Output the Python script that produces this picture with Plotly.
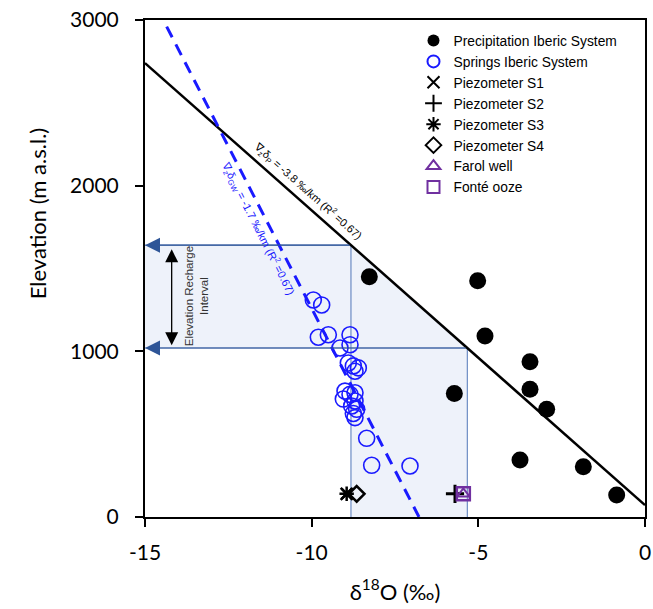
import plotly.graph_objects as go

# ---------------- data ----------------
precip_x = [-8.27, -5.02, -4.8, -5.72, -3.45, -3.45, -2.95, -3.75, -1.85, -0.85]
precip_y = [1450, 1426, 1092, 746, 937, 771, 650, 344, 304, 133]

springs_x = [-9.95, -9.7, -9.8, -9.5, -8.85, -9.15, -8.85,
             -8.9, -8.75, -8.6, -8.7,
             -9.0, -8.85, -9.05, -8.7, -8.7, -8.8, -8.65, -8.75, -8.7,
             -8.35, -8.2, -7.05]
springs_y = [1310, 1280, 1085, 1100, 1100, 1020, 1040,
             930, 912, 900, 880,
             760, 740, 712, 750, 700, 670, 650, 625, 600,
             475, 312, 308]

s1_x, s1_y = [-8.95], [140]
s2_x, s2_y = [-5.7], [140]
s3_x, s3_y = [-8.95], [140]
s4_x, s4_y = [-8.65], [140]
farol_x, farol_y = [-5.45], [140]
fonte_x, fonte_y = [-5.45], [140]

# regression lines (end points)
precip_fit_x = [-15, 0]
precip_fit_y = [2740, 72]
gw_fit_x = [-14.35, -6.78]
gw_fit_y = [2960, 0]

# recharge elevation interval
recharge_low = 1020
recharge_high = 1641

x_ticks = [-15, -10, -5, 0]
y_ticks = [0, 1000, 2000, 3000]

# ---------------- derived ----------------
slope = (precip_fit_y[1] - precip_fit_y[0]) / (precip_fit_x[1] - precip_fit_x[0])
def x_on_precip(elev):
    return precip_fit_x[0] + (elev - precip_fit_y[0]) / slope

xa = x_on_precip(recharge_high)
xb = x_on_precip(recharge_low)
xmin = x_ticks[0]

SANS = 'Liberation Sans, Arial'

fig = go.Figure()

# shaded recharge region
fig.add_trace(go.Scatter(
    x=[xmin, xmin, xa, xb, xb, xa, xa, xmin],
    y=[recharge_low, recharge_high, recharge_high, recharge_low, 0, 0, recharge_low, recharge_low],
    fill='toself', fillcolor='#eef2fa', mode='none', showlegend=False, hoverinfo='skip'))

line_col = '#6c8cc4'
for xs, ys in [([xmin, xa], [recharge_high, recharge_high]),
               ([xmin, xb], [recharge_low, recharge_low]),
               ([xa, xa], [0, recharge_high]),
               ([xb, xb], [0, recharge_low])]:
    fig.add_trace(go.Scatter(x=xs, y=ys, mode='lines', line=dict(color=line_col, width=1.2),
                             showlegend=False, hoverinfo='skip'))

# regression lines
fig.add_trace(go.Scatter(x=precip_fit_x, y=precip_fit_y, mode='lines',
                         line=dict(color='black', width=2.5), showlegend=False))
fig.add_trace(go.Scatter(x=gw_fit_x, y=gw_fit_y, mode='lines',
                         line=dict(color='#1a1aff', width=3, dash='12px,8px'), showlegend=False))

purple = '#7030a0'
fig.add_trace(go.Scatter(x=precip_x, y=precip_y, mode='markers', name='Precipitation Iberic System',
                         marker=dict(symbol='circle', size=17, color='black')))
fig.add_trace(go.Scatter(x=springs_x, y=springs_y, mode='markers', name='Springs Iberic System',
                         marker=dict(symbol='circle-open', size=16, color='#1a1aff', line=dict(width=1.6))))
fig.add_trace(go.Scatter(x=s1_x, y=s1_y, mode='markers', name='Piezometer S1',
                         marker=dict(symbol='x-thin-open', size=12, color='black', line=dict(width=2.5))))
fig.add_trace(go.Scatter(x=s2_x, y=s2_y, mode='markers', name='Piezometer S2',
                         marker=dict(symbol='cross-thin-open', size=13, color='black', line=dict(width=3))))
fig.add_trace(go.Scatter(x=s3_x, y=s3_y, mode='markers', name='Piezometer S3',
                         marker=dict(symbol='asterisk-open', size=12, color='black', line=dict(width=2.5))))
fig.add_trace(go.Scatter(x=s4_x, y=s4_y, mode='markers', name='Piezometer S4',
                         marker=dict(symbol='diamond-open', size=12, color='black', line=dict(width=2.5))))
fig.add_trace(go.Scatter(x=farol_x, y=farol_y, mode='markers', name='Farol well',
                         marker=dict(symbol='triangle-up-open', size=11, color=purple, line=dict(width=2))))
fig.add_trace(go.Scatter(x=fonte_x, y=fonte_y, mode='markers', name='Fonté ooze',
                         marker=dict(symbol='square-open', size=13, color=purple, line=dict(width=2.5))))

annotations = [
    # left-pointing arrowheads on the recharge lines
    dict(x=xmin, y=recharge_high, ax=xa, ay=recharge_high, xref='x', yref='y', axref='x', ayref='y',
         showarrow=True, arrowhead=2, arrowsize=2.5, arrowwidth=1.2, arrowcolor='#2e5597', text=''),
    dict(x=xmin, y=recharge_low, ax=xb, ay=recharge_low, xref='x', yref='y', axref='x', ayref='y',
         showarrow=True, arrowhead=2, arrowsize=2.5, arrowwidth=1.2, arrowcolor='#2e5597', text=''),
    # double-headed black arrow
    dict(x=-14.2, y=recharge_high - 25, ax=-14.2, ay=recharge_low + 8, xref='x', yref='y', axref='x', ayref='y',
         showarrow=True, arrowhead=2, startarrowhead=2, arrowside='end+start', arrowsize=2,
         startarrowsize=2, arrowwidth=1.3, arrowcolor='black', text=''),
    dict(x=-13.45, y=(recharge_low + recharge_high) / 2, xref='x', yref='y', showarrow=False,
         text='Elevation Recharge<br>Interval', textangle=-90,
         font=dict(family=SANS, size=11.5, color='#333333')),
    dict(x=-10.12, y=1970, xref='x', yref='y', showarrow=False, textangle=41.5,
         text='∇<sub>z</sub>δ<sub>P</sub> = -3.8 ‰/km (R<sup>2</sup> =0.67)',
         font=dict(family=SANS, size=11, color='black')),
    dict(x=-11.62, y=1744, xref='x', yref='y', showarrow=False, textangle=63,
         text='∇<sub>z</sub>δ<sub>GW</sub> = -1.7 ‰/km (R<sup>2</sup> =0.67)',
         font=dict(family=SANS, size=11, color='#1a1aff')),
    # y axis title (placed above the middle, as in the original)
    dict(x=-0.246, y=0.61, xref='paper', yref='paper', showarrow=False, textangle=-90,
         text='Elevation (m a.s.l.)', font=dict(family='Lato', size=22, color='black')),
]

fig.update_layout(
    width=653, height=609,
    margin=dict(l=145, r=8, t=20, b=92, autoexpand=False),
    paper_bgcolor='white', plot_bgcolor='white',
    showlegend=True,
    legend=dict(x=0.537, y=0.99, xanchor='left', yanchor='top', bgcolor='rgba(0,0,0,0)',
                font=dict(family=SANS, size=13.8, color='black'),
                tracegroupgap=0, itemsizing='constant'),
    annotations=annotations,
    font=dict(family='Lato, Open Sans', color='black'),
)
fig.update_xaxes(range=[x_ticks[0], x_ticks[-1]], tickvals=x_ticks, ticktext=[str(v) for v in x_ticks],
                 showgrid=False, zeroline=False, showline=True, linecolor='black', linewidth=2,
                 mirror=True, ticks='outside', ticklen=8, tickwidth=1.5, tickcolor='black', automargin=False,
                 tickfont=dict(family='Lato', size=21), ticklabelstandoff=8,
                 title=dict(text='δ<sup>18</sup>O (‰)', font=dict(family='Lato', size=22), standoff=21))
fig.update_yaxes(range=[y_ticks[0], y_ticks[-1]], tickvals=y_ticks, ticktext=[str(v) for v in y_ticks],
                 showgrid=False, zeroline=False, showline=True, linecolor='black', linewidth=2,
                 mirror=True, ticks='outside', ticklen=8, tickwidth=1.5, tickcolor='black', automargin=False,
                 tickfont=dict(family='Lato', size=21), ticklabelstandoff=12)

fig.write_html('out.html')
